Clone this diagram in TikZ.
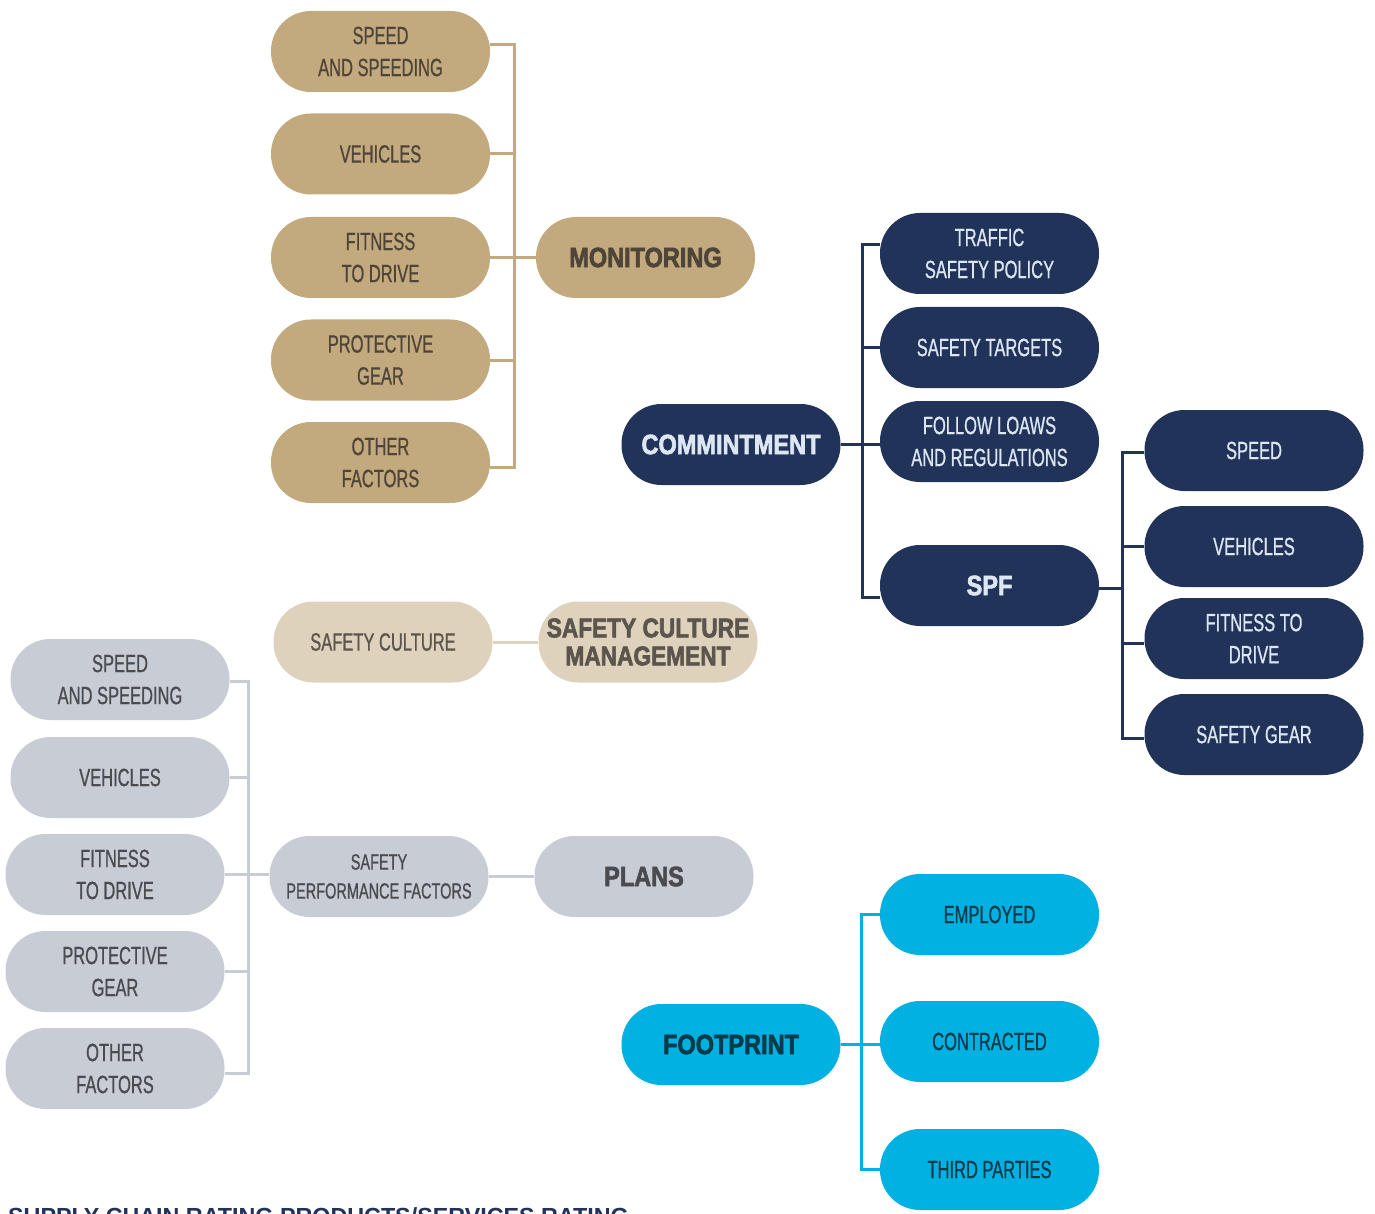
\documentclass[tikz,border=0pt]{standalone}
\usepackage{fontspec}
\setmainfont{Liberation Sans}[FakeStretch=0.66, FakeBold=0.7]
\newfontfamily\titlefam{Liberation Sans}[FakeStretch=0.84, BoldFeatures={FakeBold=2.2}]
\newfontfamily\footfam{Liberation Sans}
\definecolor{tanc}{HTML}{C3A97E}
\definecolor{tantext}{HTML}{4E4538}
\definecolor{ltanc}{HTML}{DFD2BD}
\definecolor{ltantext}{HTML}{5B554D}
\definecolor{greyc}{HTML}{C7CCD5}
\definecolor{greytext}{HTML}{4A4A4F}
\definecolor{navyc}{HTML}{22335A}
\definecolor{navytext}{HTML}{DDE7F3}
\definecolor{cyanc}{HTML}{00B1E1}
\definecolor{cyantext}{HTML}{063B4C}
\newcommand\regfont{\fontsize{25}{32}\selectfont}
\newcommand\smallregfont{\fontsize{22}{29}\selectfont}
\newcommand\ttlfont{\titlefam\bfseries\fontsize{28}{28}\selectfont}
\tikzset{
  pill/.style={rectangle, rounded corners=40pt, minimum width=219pt, minimum height=81pt,
    inner sep=0pt, align=center, font=\regfont},
  tanpill/.style={pill, fill=tanc, text=tantext},
  ltanpill/.style={pill, fill=ltanc, text=ltantext},
  greypill/.style={pill, fill=greyc, text=greytext},
  navypill/.style={pill, fill=navyc, text=navytext},
  cyanpill/.style={pill, fill=cyanc, text=cyantext},
  ttl/.style={font=\ttlfont},
  tanline/.style={draw=tanc, line width=3pt},
  ltanline/.style={draw=ltanc, line width=3pt},
  greyline/.style={draw=greyc, line width=3pt},
  navyline/.style={draw=navyc, line width=3pt},
  cyanline/.style={draw=cyanc, line width=3pt},
}
\begin{document}
\begin{tikzpicture}[x=1pt, y=-1pt]
\useasboundingbox[fill=white] (0,0) rectangle (1375,1214);

% ---------- Monitoring ----------
\node[tanpill] (m1) at (380.5,51.5) {SPEED\\AND SPEEDING};
\node[tanpill] (m2) at (380.5,154) {VEHICLES};
\node[tanpill] (m3) at (380.5,257.5) {FITNESS\\TO DRIVE};
\node[tanpill] (m4) at (380.5,360) {PROTECTIVE\\GEAR};
\node[tanpill] (m5) at (380.5,462.5) {OTHER\\FACTORS};
\node[tanpill, ttl] (mon) at (645.5,257.5) {MONITORING};
\coordinate (busM) at (514,0);
\coordinate (m1s) at ([yshift=6.5pt]m1.east);
\coordinate (m5s) at ([yshift=-4.5pt]m5.east);
\draw[tanline] (m1s) -- (m1s -| busM) -- (m5s -| busM) -- (m5s);
\draw[tanline] (m2.east) -- (m2.east -| busM);
\draw[tanline] (m4.east) -- (m4.east -| busM);
\draw[tanline] (m3.east) -- (mon.west);

% ---------- Commitment ----------
\node[navypill, ttl] (com) at (731,444.5) {COMMINTMENT};
\node[navypill] (c1) at (989.5,253.5) {TRAFFIC\\SAFETY POLICY};
\node[navypill] (c2) at (989.5,347.5) {SAFETY TARGETS};
\node[navypill] (c3) at (989.5,441.5) {FOLLOW LOAWS\\AND REGULATIONS};
\node[navypill, ttl] (spf) at (989.5,585.5) {SPF};
\coordinate (busC) at (862,0);
\coordinate (c1s) at ([yshift=8.5pt]c1.west);
\coordinate (spfs) at ([yshift=-11.5pt]spf.west);
\draw[navyline] (c1s) -- (c1s -| busC) -- (spfs -| busC) -- (spfs);
\draw[navyline] (c2.west) -- (c2.west -| busC);
\draw[navyline] (com.east) -- (com.east -| c3.west);

% ---------- SPF children ----------
\node[navypill] (s1) at (1254,450.5) {SPEED};
\node[navypill] (s2) at (1254,546.5) {VEHICLES};
\node[navypill] (s3) at (1254,638.5) {FITNESS TO\\DRIVE};
\node[navypill] (s4) at (1254,734.5) {SAFETY GEAR};
\coordinate (busS) at (1122,0);
\coordinate (s1s) at ([yshift=-1.5pt]s1.west);
\coordinate (s3s) at ([yshift=-4.5pt]s3.west);
\coordinate (s4s) at ([yshift=-3.5pt]s4.west);
\coordinate (spfe) at ([yshift=-2.5pt]spf.east);
\draw[navyline] (s1s) -- (s1s -| busS) -- (s4s -| busS) -- (s4s);
\draw[navyline] (s2.west) -- (s2.west -| busS);
\draw[navyline] (s3s) -- (s3s -| busS);
\draw[navyline] (spfe) -- (spfe -| busS);

% ---------- Safety culture ----------
\node[ltanpill] (sc) at (383,642) {SAFETY CULTURE};
\node[ltanpill, font=\titlefam\bfseries\fontsize{27}{28}\selectfont] (scm) at (648,642) {SAFETY CULTURE\\MANAGEMENT};
\draw[ltanline] (sc.east) -- (scm.west);

% ---------- Plans ----------
\node[greypill] (g1) at (120,679.5) {SPEED\\AND SPEEDING};
\node[greypill] (g2) at (120,777.5) {VEHICLES};
\node[greypill] (g3) at (115,874.5) {FITNESS\\TO DRIVE};
\node[greypill] (g4) at (115,971.5) {PROTECTIVE\\GEAR};
\node[greypill] (g5) at (115,1068.5) {OTHER\\FACTORS};
\node[greypill, font=\smallregfont] (spfac) at (379,876.5) {SAFETY\\PERFORMANCE FACTORS};
\node[greypill, ttl] (plans) at (644,876.5) {PLANS};
\coordinate (busG) at (248,0);
\coordinate (g1s) at ([yshift=-1.5pt]g1.east);
\coordinate (g5s) at ([yshift=-4.5pt]g5.east);
\draw[greyline] (g1s) -- (g1s -| busG) -- (g5s -| busG) -- (g5s);
\draw[greyline] (g2.east) -- (g2.east -| busG);
\draw[greyline] (g4.east) -- (g4.east -| busG);
\draw[greyline] (g3.east) -- (g3.east -| spfac.west);
\draw[greyline] (spfac.east) -- (plans.west);

% ---------- Footprint ----------
\node[cyanpill, ttl] (fp) at (731,1044.5) {FOOTPRINT};
\node[cyanpill] (f1) at (989.5,914.5) {EMPLOYED};
\node[cyanpill] (f2) at (989.5,1041.5) {CONTRACTED};
\node[cyanpill] (f3) at (989.5,1169.5) {THIRD PARTIES};
\coordinate (busF) at (861,0);
\draw[cyanline] (f1.west) -- (f1.west -| busF) -- (f3.west -| busF) -- (f3.west);
\draw[cyanline] (fp.east) -- (fp.east -| f2.west);

% ---------- cut-off heading ----------
\node[anchor=north west, inner sep=0pt, text=navyc,
      font=\footfam\bfseries\fontsize{23.3}{23.3}\selectfont] (foot) at (8,1207)
      {SUPPLY CHAIN RATING PRODUCTS/SERVICES RATING};
\end{tikzpicture}
\end{document}
